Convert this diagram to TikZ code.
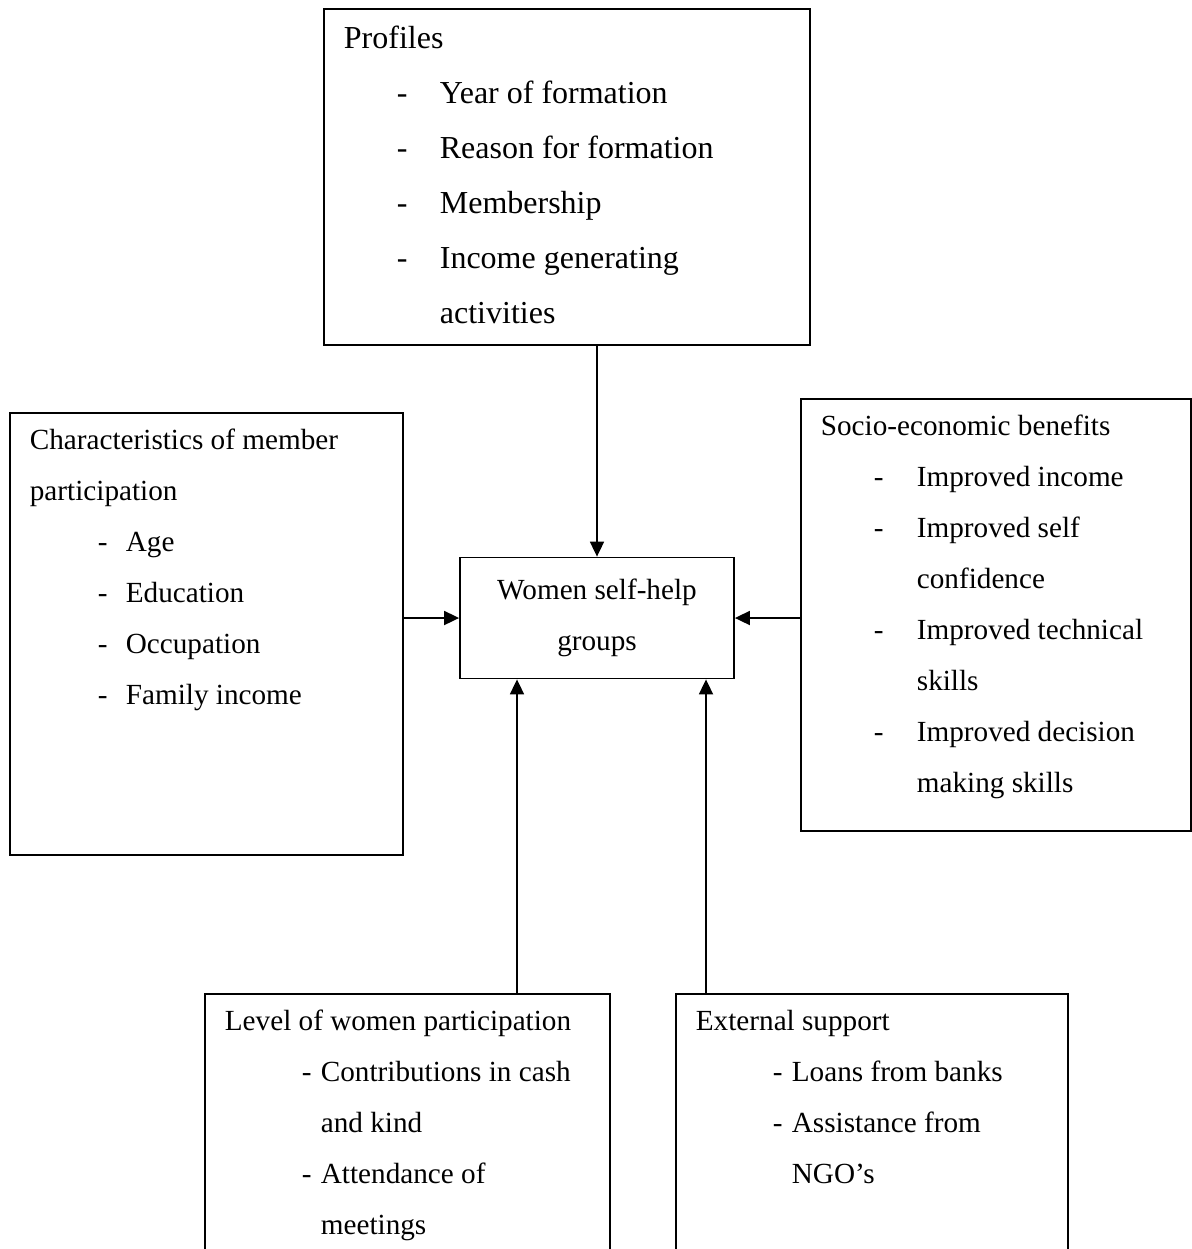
\documentclass[tikz,border=0pt]{standalone}
\usepackage{fontspec}
\setmainfont{Liberation Serif}
\usepackage{tikz}
\usetikzlibrary{arrows.meta,positioning}

\newcommand{\dashitem}[2][26.5pt]{\makebox[48pt][l]{\hspace*{#1}-}#2}
\newcommand{\contline}[1]{\hspace*{48pt}#1}

\begin{document}
\begin{tikzpicture}[
    x=0.5pt, y=-0.5pt,
    panel/.style={rectangle, draw, line width=0.9pt, anchor=north west,
                  inner xsep=10pt, inner ysep=0.5pt,
                  font=\fontsize{14.6}{25.5}\selectfont},
    core/.style={rectangle, draw, line width=0.9pt, align=center,
                 minimum width=137pt, minimum height=60.5pt,
                 font=\fontsize{14.6}{25.5}\selectfont},
    arrow/.style={-{Triangle[length=7.5pt,width=7pt]}, line width=0.9pt}
]
\useasboundingbox (0,0) rectangle (1192,1249);

\node[panel] (profiles) at (323,8) {\parbox[t][167pt][t]{223pt}{\fontsize{16}{27.5}\selectfont\strut Profiles\\
  \dashitem{Year of formation}\\
  \dashitem{Reason for formation}\\
  \dashitem{Membership}\\
  \dashitem{Income generating}\\
  \contline{activities}}};

\node[core] (wshg) at (597,618) {Women self-help\\groups};

\node[panel] (chars) at (9,412) {\parbox[t][220pt][t]{176.5pt}{\strut Characteristics of member\\
  participation\\
  \dashitem[34pt]{Age}\\
  \dashitem[34pt]{Education}\\
  \dashitem[34pt]{Occupation}\\
  \dashitem[34pt]{Family income}}};

\node[panel] (benefits) at (800,398) {\parbox[t][215pt][t]{175pt}{\strut Socio-economic benefits\\
  \dashitem{Improved income}\\
  \dashitem{Improved self}\\
  \contline{confidence}\\
  \dashitem{Improved technical}\\
  \contline{skills}\\
  \dashitem{Improved decision}\\
  \contline{making skills}}};

\node[panel] (level) at (204,993) {\parbox[t][150pt][t]{182.5pt}{\strut Level of women participation\\
  \dashitem[38.5pt]{Contributions in cash}\\
  \contline{and kind}\\
  \dashitem[38.5pt]{Attendance of}\\
  \contline{meetings}}};

\node[panel] (external) at (675,993) {\parbox[t][150pt][t]{176pt}{\strut External support\\
  \dashitem[38.5pt]{Loans from banks}\\
  \dashitem[38.5pt]{Assistance from}\\
  \contline{NGO's}}};

% connectors into the centre box
\draw[arrow] (wshg.north |- profiles.south) -- (wshg.north);
\draw[arrow] (chars.east |- wshg.west) -- (wshg.west);
\draw[arrow] (benefits.west |- wshg.east) -- (wshg.east);
\draw[arrow] ([xshift=-40pt]wshg.south |- level.north) -- ([xshift=-40pt]wshg.south);
\draw[arrow] ([xshift=54.5pt]wshg.south |- external.north) -- ([xshift=54.5pt]wshg.south);
\end{tikzpicture}
\end{document}
